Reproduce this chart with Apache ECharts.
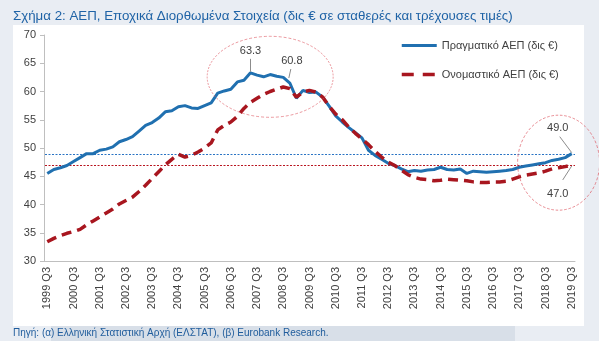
<!DOCTYPE html>
<html><head><meta charset="utf-8">
<script src="https://cdn.jsdelivr.net/npm/echarts@6/dist/echarts.min.js"></script>
<style>html,body{margin:0;padding:0;background:#e9edf3;}#c{width:599px;height:341px;}</style>
</head><body><div id="c"></div>
<script>
// ---- data ----
const years = [1999,2000,2001,2002,2003,2004,2005,2006,2007,2008,2009,2010,2011,2012,2013,2014,2015,2016,2017,2018,2019];
const quarterNames = ['Q1','Q2','Q3','Q4'];
const categories = [];
years.forEach(function(y){ quarterNames.forEach(function(q, k){
  if ((y === 1999 && k < 2) || (y === 2019 && k > 2)) return;
  categories.push(y + ' ' + q);
});});
const realGDP = [45.5,46.2,46.5,46.9,47.6,48.3,49.0,49.0,49.6,49.8,50.2,51.1,51.5,52.0,53.0,54.0,54.5,55.3,56.4,56.6,
  57.3,57.5,57.1,57.0,57.5,58.0,59.7,60.1,60.4,61.7,62.0,63.3,62.9,62.6,63.0,62.7,62.5,61.5,58.8,60.2,
  59.8,59.9,59.0,57.4,55.7,54.6,53.6,52.7,51.8,49.6,48.7,48.0,47.3,46.9,46.3,45.8,46.0,45.9,46.1,46.2,
  46.6,46.2,46.1,46.3,45.5,45.9,45.8,45.7,45.8,45.9,46.0,46.2,46.6,46.8,47.0,47.2,47.4,47.8,48.0,48.3,49.0];
const nominalGDP = [33.4,34.0,34.5,34.9,35.2,35.6,36.4,37.1,37.8,38.5,39.2,40.1,40.7,41.3,42.3,43.4,44.6,45.8,47.0,48.0,
  48.9,48.4,48.7,49.3,50.0,50.9,53.2,54.0,54.6,55.6,57.0,58.1,58.8,59.5,60.0,60.4,60.8,60.5,59.0,59.9,
  60.2,59.9,59.0,57.4,56.0,55.0,53.7,52.6,51.6,50.6,49.4,48.4,47.5,46.9,46.1,45.3,44.8,44.5,44.4,44.2,
  44.3,44.5,44.4,44.3,44.2,44.0,43.9,43.9,44.0,44.0,44.1,44.5,44.9,45.2,45.4,45.6,45.9,46.3,46.5,46.7,47.0];
const seriesNames = ['Πραγματικό ΑΕΠ (δις €)', 'Ονομαστικό ΑΕΠ (δις €)'];
const refLevels = [49.0, 47.0];
const yTicks = {min: 30, max: 70, interval: 5};
const titleText = 'Σχήμα 2: ΑΕΠ, Εποχικά Διορθωμένα Στοιχεία (δις € σε σταθερές και τρέχουσες τιμές)';
const sourceText = 'Πηγή: (α) Ελληνική Στατιστική Αρχή (ΕΛΣΤΑΤ), (β) Eurobank Research.';
const realPeakIdx = 31, nomPeakIdx = 37, lastIdx = 80;

const FONT = 'Liberation Sans';
const BLUE = '#2070b0', RED = '#a8161f', TXT = '#404040';
const chart = echarts.init(document.getElementById('c'));
chart.setOption({
  animation: false,
  backgroundColor: '#e9edf3',
  textStyle: {fontFamily: FONT},
  title: [
    {text: titleText, left: 13, top: 10, padding: 0, textStyle: {fontSize: 13.3, fontWeight: 'normal', color: '#1f63a6', fontFamily: FONT}},
    {text: sourceText, left: 13, top: 328, padding: 0, textStyle: {fontSize: 10, fontWeight: 'normal', color: '#1f5c9c', fontFamily: FONT}}
  ],
  legend: {
    orient: 'vertical', left: 400, top: 40, padding: 0, itemWidth: 35, itemHeight: 12, itemGap: 18,
    itemStyle: {opacity: 0},
    textStyle: {fontSize: 11, color: TXT, fontFamily: FONT},
    data: [
      {name: seriesNames[0], lineStyle: {width: 3}},
      {name: seriesNames[1], lineStyle: {type: [12, 9], width: 3.5}}
    ]
  },
  grid: {left: 44, right: 24, top: 35, bottom: 80},
  xAxis: {
    type: 'category', data: categories, boundaryGap: true,
    axisLine: {lineStyle: {color: '#bfbfbf'}},
    axisTick: {interval: 3, length: 4, lineStyle: {color: '#bfbfbf'}},
    axisLabel: {interval: 3, rotate: 90, fontSize: 11, color: TXT, margin: 6, fontFamily: FONT}
  },
  yAxis: {
    type: 'value', min: yTicks.min, max: yTicks.max, interval: yTicks.interval,
    splitLine: {show: false},
    axisLine: {show: true, lineStyle: {color: '#bfbfbf'}},
    axisTick: {show: true, length: 4, lineStyle: {color: '#bfbfbf'}},
    axisLabel: {fontSize: 11, color: TXT, margin: 8, fontFamily: FONT}
  },
  series: [
    {name: seriesNames[0], type: 'line', data: realGDP, symbol: 'none', z: 3,
     lineStyle: {color: BLUE, width: 3}, itemStyle: {color: BLUE}},
    {name: seriesNames[1], type: 'line', data: nominalGDP, symbol: 'none', z: 4,
     lineStyle: {color: RED, width: 3.5, type: [10, 6]}, itemStyle: {color: RED}}
  ]
});

function px(i, v){ return chart.convertToPixel({xAxisIndex: 0, yAxisIndex: 0}, [i, v]); }
const gridRect = chart.getModel().getComponent('grid', 0).coordinateSystem.getRect();
const yBlue = Math.round(px(0, refLevels[0])[1]) + 0.5;
const yRed = Math.round(px(0, refLevels[1])[1]) + 0.5;
const p63 = px(realPeakIdx, realGDP[realPeakIdx]);
const p60 = px(nomPeakIdx, realGDP[nomPeakIdx]);
const p49 = px(lastIdx, realGDP[lastIdx]);
const p47 = px(lastIdx, nominalGDP[lastIdx]);
const e1 = px(34, 62.6), e2 = px(77.7, 47.4);
const lbl = {fill: TXT, fontSize: 11, fontFamily: FONT, textAlign: 'center', textVerticalAlign: 'middle'};
const ellStyle = {fill: 'none', stroke: 'rgba(222,90,100,0.75)', lineWidth: 1, lineDash: [3, 2], strokeNoScale: true};
chart.setOption({graphic: [
  {type: 'rect', z: -100, silent: true, shape: {x: 13, y: 25, width: 571, height: 301}, style: {fill: '#ffffff'}},
  {type: 'rect', z: -100, silent: true, shape: {x: 51, y: 326, width: 464, height: 15}, style: {fill: '#d8dfe8'}},
  {type: 'line', silent: true, z: -5, shape: {x1: gridRect.x + 1, y1: yBlue, x2: gridRect.x + gridRect.width, y2: yBlue}, style: {stroke: '#2a74c4', lineWidth: 1, lineDash: [2, 1.5]}},
  {type: 'line', silent: true, z: -5, shape: {x1: gridRect.x + 1, y1: yRed, x2: gridRect.x + gridRect.width, y2: yRed}, style: {stroke: '#b8141f', lineWidth: 1, lineDash: [2, 1.5]}},
  {type: 'text', silent: true, z: 50, style: Object.assign({text: '63.3', x: p63[0], y: p63[1] - 22}, lbl)},
  {type: 'line', silent: true, z: 50, shape: {x1: p63[0], y1: p63[1] - 14, x2: p63[0], y2: p63[1] - 1}, style: {stroke: '#8c8c8c', lineWidth: 1}},
  {type: 'text', silent: true, z: 50, style: Object.assign({text: '60.8', x: p60[0] + 2, y: p60[1] - 22}, lbl)},
  {type: 'line', silent: true, z: 50, shape: {x1: p60[0] + 1, y1: p60[1] - 14, x2: p60[0] - 1, y2: p60[1] - 5}, style: {stroke: '#8c8c8c', lineWidth: 1}},
  {type: 'text', silent: true, z: 50, style: Object.assign({text: '49.0', x: p49[0] - 14, y: p49[1] - 26}, lbl)},
  {type: 'line', silent: true, z: 50, shape: {x1: p49[0] - 12, y1: p49[1] - 17, x2: p49[0], y2: p49[1] - 1}, style: {stroke: '#8c8c8c', lineWidth: 1}},
  {type: 'text', silent: true, z: 50, style: Object.assign({text: '47.0', x: p47[0] - 14, y: p47[1] + 29}, lbl)},
  {type: 'line', silent: true, z: 50, shape: {x1: p47[0] - 9, y1: p47[1] + 15, x2: p47[0], y2: p47[1] + 1}, style: {stroke: '#8c8c8c', lineWidth: 1}},
  {type: 'circle', silent: true, z: 40, x: e1[0], y: e1[1], scaleX: 1, scaleY: 40.5 / 63, shape: {cx: 0, cy: 0, r: 63}, style: ellStyle},
  {type: 'circle', silent: true, z: 40, x: e2[0], y: e2[1], scaleX: 41 / 47.5, scaleY: 1, shape: {cx: 0, cy: 0, r: 47.5}, style: ellStyle}
]});
</script></body></html>
